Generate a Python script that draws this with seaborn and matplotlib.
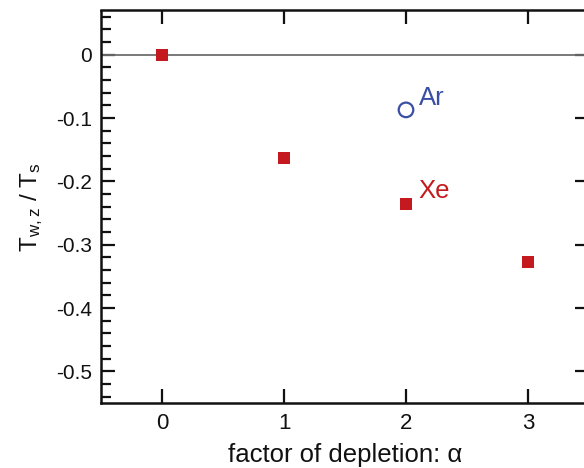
import matplotlib
matplotlib.use("Agg")
import matplotlib.pyplot as plt
from matplotlib.ticker import MultipleLocator
import seaborn as sns
import pandas as pd

# data
xe_alpha = [0, 1, 2, 3]
xe_values = [0.0, -0.163, -0.235, -0.327]
ar_alpha = [2]
ar_values = [-0.087]
x_ticks = [0, 1, 2, 3]
x_tick_labels = ["0", "1", "2", "3"]
y_ticks = [0, -0.1, -0.2, -0.3, -0.4, -0.5]
y_tick_labels = ["0", "-0.1", "-0.2", "-0.3", "-0.4", "-0.5"]

sns.set_theme(style="ticks")
plt.rcParams["font.family"] = ["Liberation Sans", "DejaVu Sans"]
plt.rcParams["mathtext.default"] = "regular"
plt.rcParams["axes.unicode_minus"] = False

red = "#c41a1f"
blue = "#3a4ea3"

fig = plt.figure(figsize=(5.84, 4.68), dpi=100)
ax = fig.add_axes([101 / 584, 65 / 468, 488 / 584, 392.5 / 468])

ax.axhline(0, color="#6e6e6e", lw=1.3, zorder=1)

xe_df = pd.DataFrame({"alpha": xe_alpha, "val": xe_values})
ar_df = pd.DataFrame({"alpha": ar_alpha, "val": ar_values})
sns.scatterplot(data=xe_df, x="alpha", y="val", marker="s", s=64, color=red,
                edgecolor=red, linewidth=0, ax=ax, zorder=3)
sns.scatterplot(data=ar_df, x="alpha", y="val", marker="o", s=110,
                facecolor="none", edgecolor=blue, linewidth=1.6, ax=ax, zorder=3)

ax.text(ar_alpha[0] + 0.11, ar_values[0] + 0.008, "Ar", color=blue,
        fontsize=18.5, ha="left", va="baseline")
ax.text(xe_alpha[2] + 0.10, xe_values[2] + 0.009, "Xe", color=red,
        fontsize=18.5, ha="left", va="baseline")

ax.set_xlim(-0.5, 3.5)
ax.set_ylim(-0.55, 0.07)
ax.set_xticks(x_ticks)
ax.set_xticklabels(x_tick_labels, fontsize=16)
ax.set_yticks(y_ticks)
ax.set_yticklabels(y_tick_labels, fontsize=15)
ax.yaxis.set_minor_locator(MultipleLocator(0.02))

ax.tick_params(which="both", direction="in", top=True, right=True,
               width=1.6, color="#111111", labelcolor="#111111")
ax.tick_params(which="major", length=10)
ax.tick_params(which="minor", length=7, right=False, top=False)
ax.tick_params(axis="x", pad=7)
ax.tick_params(axis="y", pad=6.5)

for sp in ax.spines.values():
    sp.set_linewidth(1.8)
    sp.set_color("#111111")

ax.set_xlabel("factor of depletion: α", fontsize=18.5, color="#111111", labelpad=7)
ax.set_ylabel("T$_{w,z}$ / T$_s$", fontsize=17.5, color="#111111", labelpad=8)

fig.savefig("out.png", dpi=100)
